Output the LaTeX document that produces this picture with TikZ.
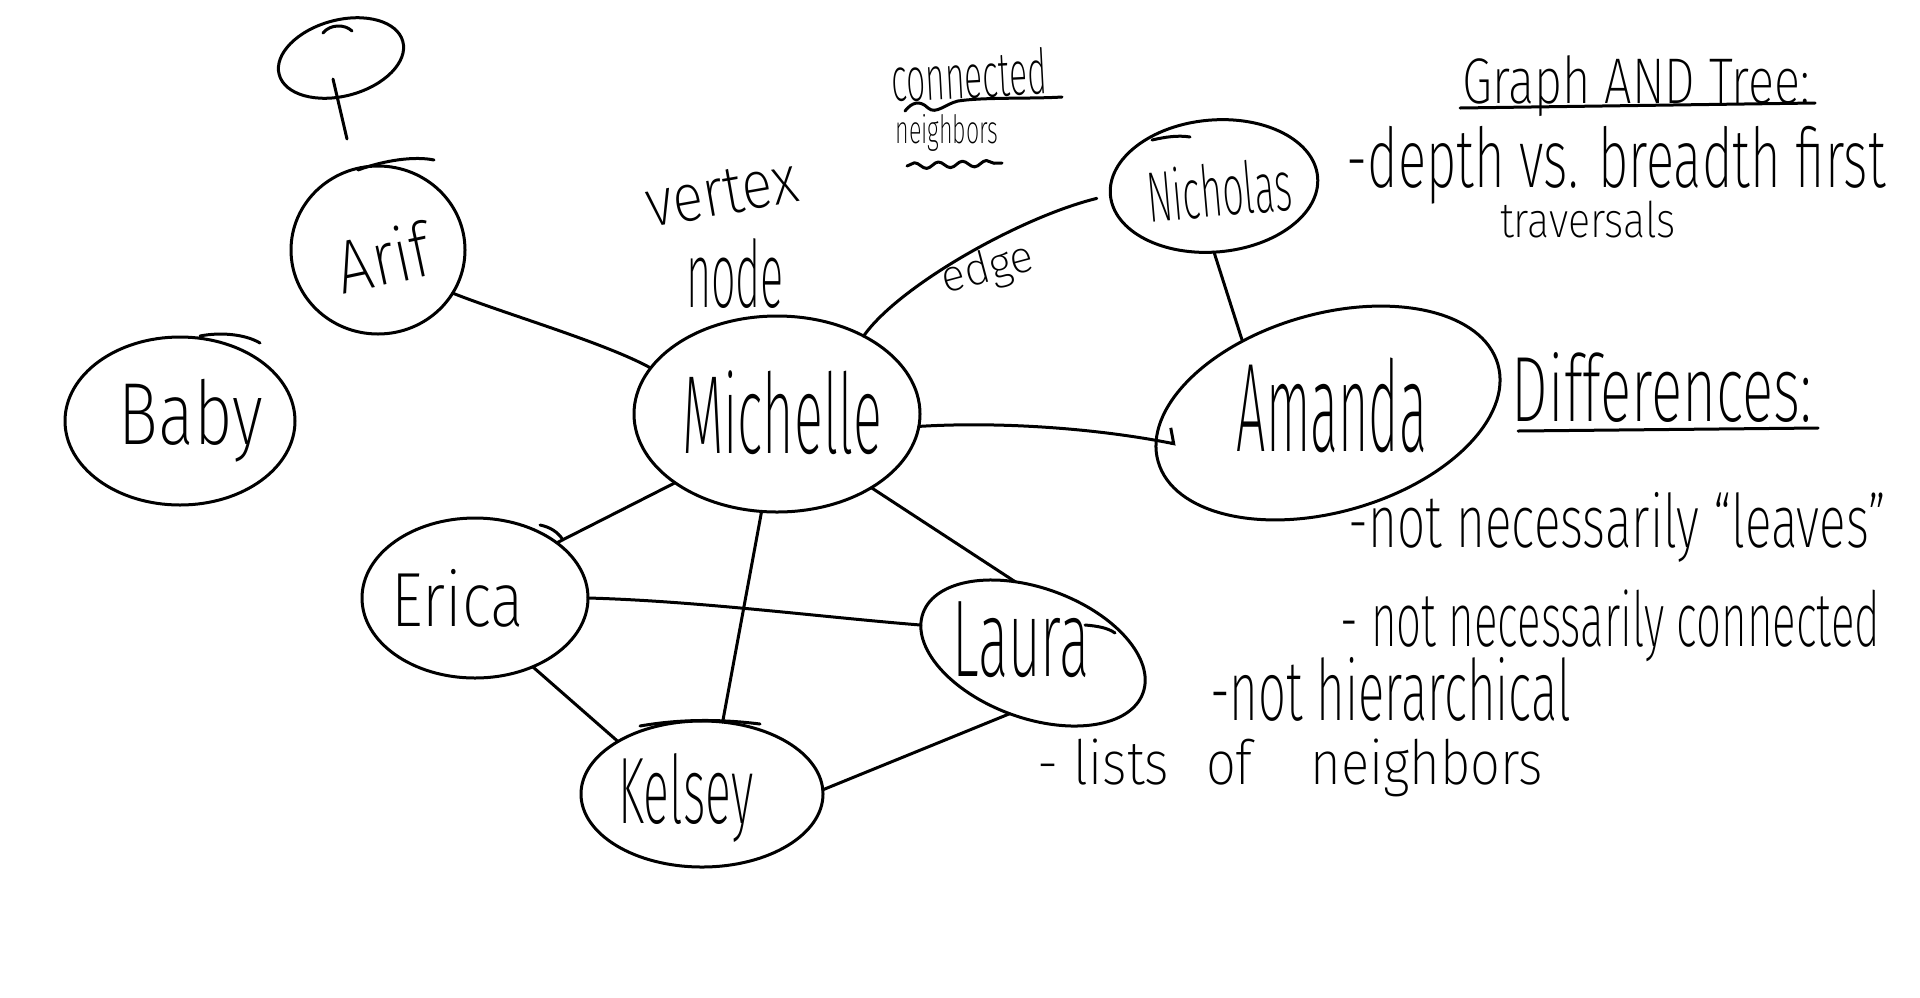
\documentclass[tikz,border=0pt]{standalone}
\usepackage{fontspec}
\newfontfamily\hand{Fira Sans ExtraLight}
\usetikzlibrary{shapes.geometric,arrows.meta,decorations.pathmorphing,calc}
\newcommand\hw[3]{\resizebox*{#1pt}{#2pt}{\hand #3}}
\newsavebox\hwbox
% name set inside its vertex: dx, dy(up), angle, width, height, text (pt)
\newcommand\nm[6]{\sbox\hwbox{\rotatebox[origin=c]{#3}{\resizebox*{#4pt}{#5pt}{\hand #6}}}%
  \makebox[0pt]{\hspace*{#1pt}\hspace*{#1pt}\raisebox{\dimexpr(\dp\hwbox-\ht\hwbox)/2+#2pt\relax}[0pt][0pt]{\usebox\hwbox}}}
\begin{document}
\begin{tikzpicture}[x=0.5pt,y=-0.5pt, line width=1.5pt, line cap=round, line join=round,
  blob/.style={ellipse, draw, inner sep=0pt, outer sep=0pt},
  lbl/.style={inner sep=0pt, outer sep=0pt},
  wavy/.style={decorate, decoration={snake, amplitude=1.5pt, segment length=12pt}}]
\useasboundingbox[fill=white] (0,0) rectangle (1920,997);

% ---- vertices with their names ----
\node[blob, minimum width=64pt, minimum height=38pt, rotate=15] (lolli) at (341,58) {};
\node[blob, minimum width=87pt, minimum height=84pt] (arif) at (378,250)
  {\nm{2.5}{-3.5}{12}{47}{28}{Arif}};
\node[blob, minimum width=115pt, minimum height=84pt] (baby) at (180,421)
  {\nm{5.5}{0}{0}{72}{41.5}{Baby}};
\node[blob, minimum width=143pt, minimum height=98pt] (mich) at (777,414)
  {\nm{2.5}{0.5}{0}{100}{42}{Michelle}};
\node[blob, minimum width=104pt, minimum height=66pt, rotate=5] (nich) at (1214,186)
  {\nm{2.3}{-2.2}{0}{72.5}{27}{Nicholas}};
\node[blob, minimum width=176.7pt, minimum height=99pt, rotate=16] (amanda) at (1328,413)
  {\nm{3}{3.3}{-16}{95}{47.5}{Amanda}};
\node[blob, minimum width=113pt, minimum height=80pt] (erica) at (475,598)
  {\nm{-8.5}{0}{0}{66}{29}{Erica}};
\node[blob, minimum width=117pt, minimum height=65pt, rotate=-20] (laura) at (1033,653)
  {\nm{-7.85}{4.05}{20}{69}{38}{Laura}};
\node[blob, minimum width=121pt, minimum height=73pt] (kelsey) at (702,794)
  {\nm{-8}{-2}{0}{67.5}{44.5}{Kelsey}};

% ---- annotations ----
\node[lbl, rotate=10] (vertexT) at (722,193) {\hw{76.5}{22.5}{vertex}};
\node[lbl] (nodeT) at (735,274) {\hw{49}{35}{node}};
\node[lbl, rotate=15] (edgeT) at (988,270) {\hw{47}{21}{edge}};
\node[lbl, rotate=3] (connT) at (969,75) {\hw{78}{23.5}{connected}};
\node[lbl] (neighT) at (947,133) {\hw{51.5}{18.5}{neighbors}};
\node[lbl] (graphT) at (1636,86) {\hw{173.5}{30.5}{Graph AND Tree:}};
\node[lbl] (depthT) at (1616,165) {\hw{269.5}{39}{-depth vs. breadth first}};
\node[lbl] (travT) at (1588,220) {\hw{88}{18.5}{traversals}};
\node[lbl] (diffT) at (1662,387) {\hw{150}{35}{Differences:}};
\node[lbl] (l1) at (1617.5,527) {\hw{268.5}{35}{-not necessarily “leaves”}};
\node[lbl] (l2) at (1610.5,626) {\hw{269.5}{36}{- not necessarily connected}};
\node[lbl] (l3) at (1390.5,689) {\hw{180.5}{32}{-not hierarchical}};
\node[lbl] (l4) at (1290.5,768) {\hw{252.5}{29}{- lists\hspace{0.7em}of\hspace{1.1em}neighbors}};

% underlines
\draw (1460,108) -- (1815,103);
\draw (1518,431) -- (1818,428);
\draw (905,111) .. controls (912,102) and (920,100) .. (928,108)
      .. controls (936,115) and (945,104) .. (958,101)
      .. controls (985,97) and (1030,99) .. (1062,97);
\draw[wavy] (907,166) -- (1002,163);

% ---- pen overshoots ----
\draw (323,33) .. controls (330,24) and (345,24) .. (352,31);
\draw (358,170) .. controls (385,160) and (415,156) .. (434,160);
\draw (200,336) .. controls (220,332) and (245,334) .. (260,343);
\draw (1152,140) .. controls (1165,137) and (1178,135) .. (1190,137);
\draw (640,726) .. controls (680,719) and (720,719) .. (760,724);
\draw (540,525) .. controls (550,527) and (558,532) .. (563,540);
\draw (1085,625) .. controls (1098,626) and (1108,628) .. (1115,633);

% ---- edges ----
\coordinate (stickend) at (347,139);
\draw ($(lolli.center)+(-8,21)$) -- (stickend);
\draw (arif.-30) .. controls +(50,20) and +(-45,-25) .. (mich.160);
\draw[shorten >=7pt] (mich.42) .. controls +(35,-50) and +(-90,22) .. (nich.180);
\draw (nich.-95) -- (amanda.124);
\draw[-{Straight Barb[harpoon,length=3pt,width=15pt]}, shorten >=-10pt]
      (mich.-5) .. controls +(80,-5) and +(-60,-12) .. (amanda.173.5);
\draw (mich.-146) -- (erica.34);
\draw (mich.-99) -- (kelsey.74);
\draw (mich.-38) -- (laura.124);
\draw (erica.0) .. controls +(110,3) and +(-100,-8) .. (laura.186);
\draw (erica.-50) -- (kelsey.148);
\draw (kelsey.2) -- (laura.-91);
\end{tikzpicture}
\end{document}
